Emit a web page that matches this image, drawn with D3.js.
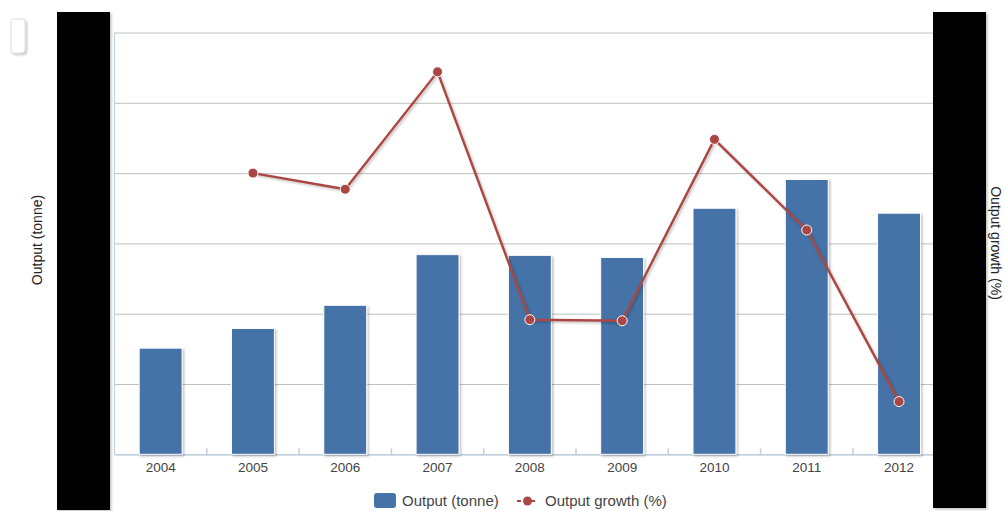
<!DOCTYPE html>
<html>
<head>
<meta charset="utf-8">
<script src="https://cdn.jsdelivr.net/npm/d3@7.9.0/dist/d3.min.js"></script>
<style>
  html, body { margin: 0; padding: 0; background: #fff; }
  svg { display: block; font-family: "Liberation Sans", Arial, sans-serif; }
</style>
</head>
<body>
<div id="chart"></div>
<script>
// data
const years = ['2004', '2005', '2006', '2007', '2008', '2009', '2010', '2011', '2012'];
const output = [151, 179, 212, 284, 283, 280, 350, 391, 343];
const growth = [null, 20.0, 17.7, 34.4, -0.85, -1.0, 24.8, 11.9, -12.5];
const leftTicks = [0, 100, 200, 300, 400, 500, 600];
const rightTicks = [-20, -10, 0, 10, 20, 30, 40];

const width = 1005, height = 511;
const plot = { left: 114.5, right: 945.2, top: 32.5, bottom: 454.3 };

const svg = d3.select('#chart').append('svg')
  .attr('width', width)
  .attr('height', height);

const defs = svg.append('defs');
const shadow = defs.append('filter').attr('id', 'shadow')
  .attr('x', '-20%').attr('y', '-20%').attr('width', '150%').attr('height', '150%');
shadow.append('feDropShadow')
  .attr('dx', 1.5).attr('dy', 1.5).attr('stdDeviation', 1)
  .attr('flood-color', '#000').attr('flood-opacity', 0.25);

const x = d3.scaleBand().domain(years).range([plot.left, plot.right]);
const y = d3.scaleLinear().domain([0, 600]).range([plot.bottom, plot.top]);
const y2 = d3.scaleLinear().domain([-20, 40]).range([plot.bottom, plot.top]);

// gridlines
svg.append('g')
  .attr('transform', `translate(${plot.left},0)`)
  .call(d3.axisLeft(y).tickValues(leftTicks).tickFormat('').tickSize(-(plot.right - plot.left)))
  .call(g => g.select('.domain').remove())
  .call(g => g.selectAll('line').attr('stroke', '#c0c0c0').attr('stroke-width', 1));

// left plot border
svg.append('line')
  .attr('x1', plot.left).attr('x2', plot.left)
  .attr('y1', plot.top).attr('y2', plot.bottom)
  .attr('stroke', '#c0d0e0');

// x axis
const xAxis = svg.append('g')
  .attr('transform', `translate(0,${plot.bottom})`)
  .call(d3.axisBottom(x).tickSize(0).tickPadding(8));
xAxis.select('.domain').attr('stroke', '#c0d0e0').attr('stroke-width', 1.5);
xAxis.selectAll('text').attr('font-size', 13.5).attr('fill', '#444');
xAxis.selectAll('.tick line').remove();
xAxis.selectAll('line.sep')
  .data(years.slice(1))
  .join('line')
  .attr('class', 'sep')
  .attr('x1', d => x(d)).attr('x2', d => x(d))
  .attr('y1', 0).attr('y2', -6)
  .attr('stroke', '#c0d0e0').attr('stroke-width', 1.5);

// bars
const barW = x.bandwidth() * 0.465;
svg.append('g')
  .selectAll('rect')
  .data(years.map((yr, i) => ({ yr, v: output[i] })))
  .join('rect')
  .attr('x', d => x(d.yr) + (x.bandwidth() - barW) / 2)
  .attr('y', d => y(d.v))
  .attr('width', barW)
  .attr('height', d => plot.bottom - y(d.v))
  .attr('fill', '#4572a7')
  .attr('stroke', '#fff')
  .attr('stroke-width', 1)
  .attr('filter', 'url(#shadow)');

// growth line
const pts = years.map((yr, i) => ({ yr, v: growth[i] })).filter(d => d.v !== null);
const line = d3.line()
  .x(d => x(d.yr) + x.bandwidth() / 2)
  .y(d => y2(d.v));

svg.append('path')
  .datum(pts)
  .attr('d', line)
  .attr('fill', 'none')
  .attr('stroke', '#aa4643')
  .attr('stroke-width', 2.4)
  .attr('stroke-linejoin', 'round')
  .attr('filter', 'url(#shadow)');

svg.append('g')
  .selectAll('circle')
  .data(pts)
  .join('circle')
  .attr('cx', d => x(d.yr) + x.bandwidth() / 2)
  .attr('cy', d => y2(d.v))
  .attr('r', 5)
  .attr('fill', '#aa4643')
  .attr('stroke', '#fff')
  .attr('stroke-width', 1);

// axis titles
svg.append('text')
  .attr('transform', 'translate(42,240) rotate(-90)')
  .attr('text-anchor', 'middle')
  .attr('font-size', 14)
  .attr('fill', '#222')
  .text('Output (tonne)');

svg.append('text')
  .attr('transform', 'translate(991,243) rotate(90)')
  .attr('text-anchor', 'middle')
  .attr('font-size', 14)
  .attr('fill', '#222')
  .text('Output growth (%)');

// legend
const legend = svg.append('g');
legend.append('rect')
  .attr('x', 374).attr('y', 493).attr('width', 22).attr('height', 15).attr('rx', 3)
  .attr('fill', '#4572a7');
legend.append('text')
  .attr('x', 402).attr('y', 506)
  .attr('font-size', 15).attr('fill', '#444')
  .text('Output (tonne)');
legend.append('line')
  .attr('x1', 517).attr('x2', 538).attr('y1', 501).attr('y2', 501)
  .attr('stroke', '#aa4643').attr('stroke-width', 2).attr('stroke-dasharray', '4,3');
legend.append('circle')
  .attr('cx', 527.5).attr('cy', 501).attr('r', 4.5)
  .attr('fill', '#aa4643');
legend.append('text')
  .attr('x', 545).attr('y', 506)
  .attr('font-size', 15).attr('fill', '#444')
  .text('Output growth (%)');

// export button remnant
svg.append('rect')
  .attr('x', 11).attr('y', 19).attr('width', 14).attr('height', 34).attr('rx', 3)
  .attr('fill', '#fff').attr('stroke', '#ddd')
  .attr('filter', 'url(#shadow)');

// black masking boxes
svg.append('rect')
  .attr('x', 57).attr('y', 12).attr('width', 53).attr('height', 498)
  .attr('fill', '#000').attr('filter', 'url(#shadow)');
svg.append('rect')
  .attr('x', 933).attr('y', 12).attr('width', 53).attr('height', 496)
  .attr('fill', '#000').attr('filter', 'url(#shadow)');
</script>
</body>
</html>
